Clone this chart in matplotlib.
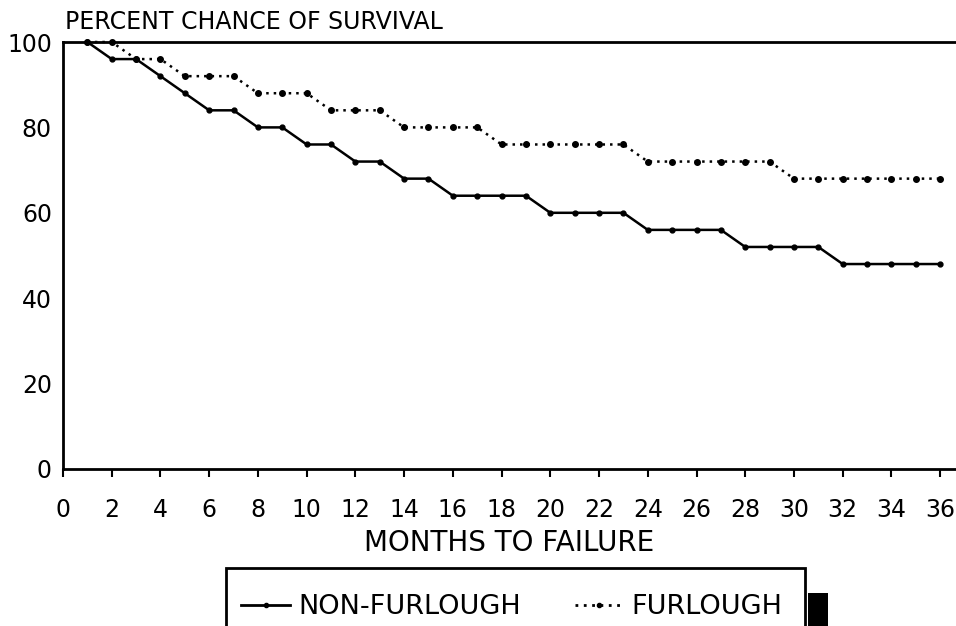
import matplotlib
matplotlib.use("Agg")
import matplotlib.pyplot as plt
from matplotlib.patches import Rectangle
from matplotlib.lines import Line2D

months = list(range(1, 37))
non_furlough = [100, 96, 96, 92, 88, 84, 84, 80, 80, 76, 76, 72, 72, 68, 68, 64, 64, 64,
                64, 60, 60, 60, 60, 56, 56, 56, 56, 52, 52, 52, 52, 48, 48, 48, 48, 48]
furlough = [100, 100, 96, 96, 92, 92, 92, 88, 88, 88, 84, 84, 84, 80, 80, 80, 80, 76,
            76, 76, 76, 76, 76, 72, 72, 72, 72, 72, 72, 68, 68, 68, 68, 68, 68, 68]
xticks = list(range(0, 37, 2))
yticks = [0, 20, 40, 60, 80, 100]

plt.rcParams['font.family'] = ['DejaVu Sans']

W, H = 956, 626
fig = plt.figure(figsize=(W / 100, H / 100), dpi=100)
left, right, top, bottom = 63, 956, 42, 469
ax = fig.add_axes([left / W, 1 - bottom / H, (right - left) / W, (bottom - top) / H])

ax.plot(months, non_furlough, color='black', lw=1.8, marker='o', ms=3.5, clip_on=False)
ax.plot(months, furlough, color='black', lw=1.8, ls=(0, (1, 2)), marker='o', ms=4, clip_on=False)

ax.set_xlim(0, 36.65)
ax.set_ylim(0, 100)
ax.set_xticks(xticks)
ax.set_xticklabels([str(v) for v in xticks], fontsize=17)
ax.set_yticks(yticks)
ax.set_yticklabels([str(v) for v in yticks], fontsize=17)
ax.tick_params(axis='x', direction='out', length=6, width=1.5, pad=15)
ax.tick_params(axis='y', length=0, pad=8)
for s in ['left', 'bottom', 'top']:
    ax.spines[s].set_linewidth(2)
ax.spines['right'].set_visible(False)

fig.text(65 / W, 1 - 22 / H, 'PERCENT CHANCE OF SURVIVAL', fontsize=17, ha='left', va='center')
ax.set_xlabel('MONTHS TO FAILURE', fontsize=20, labelpad=5)

# legend box
fig.patches.append(Rectangle((226 / W, -0.05), (805 - 226) / W, 0.05 + (1 - 568 / H),
                             transform=fig.transFigure, fill=False, ec='black', lw=2, clip_on=False))
fig.patches.append(Rectangle((808 / W, 0), (828 - 808) / W, (626 - 593) / H,
                             transform=fig.transFigure, fc='black', ec='none'))
handles = [Line2D([], [], color='black', lw=2, marker='o', ms=3, markevery=[1]),
           Line2D([], [], color='black', lw=2, ls=(0, (1, 2)), marker='o', ms=3, markevery=[1])]
fig.legend(handles, ['NON-FURLOUGH', 'FURLOUGH'], loc='center', ncol=2, frameon=False,
           bbox_to_anchor=(512 / W, 1 - 607 / H), fontsize=19.5, handlelength=1.8,
           columnspacing=2.0, handletextpad=0.3, borderpad=0, borderaxespad=0)

fig.savefig('out.png', dpi=100)
